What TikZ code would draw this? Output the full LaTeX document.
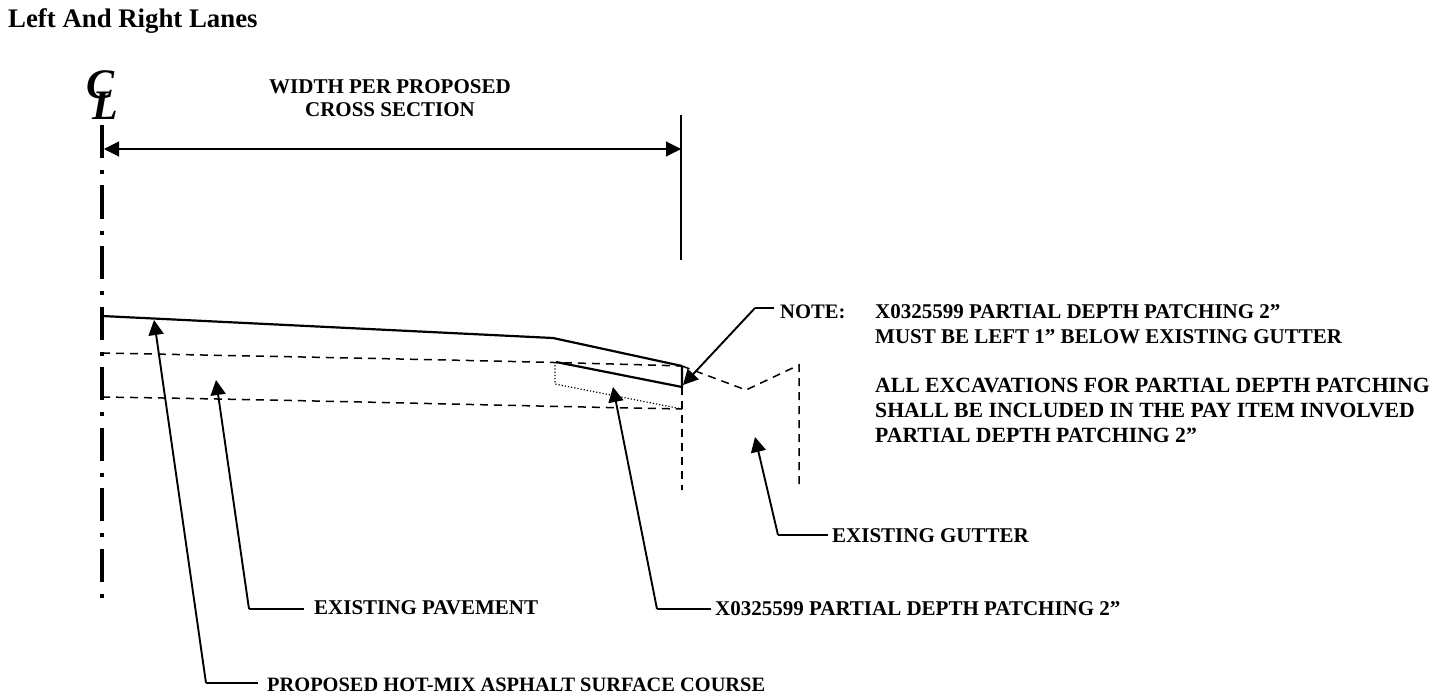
\documentclass[tikz,border=0pt]{standalone}
\usepackage{fontspec}
\setmainfont{Liberation Serif}
\usetikzlibrary{arrows.meta}
\tikzset{
  lbl/.style={anchor=base west, inner xsep=4pt, inner ysep=0pt, align=left, font=\fontsize{21}{25}\selectfont\bfseries},
  heavy/.style={line width=2.2pt},
  gone/.style={line width=1.5pt, dash pattern=on 8pt off 6pt},
  leader/.style={line width=1.9pt, -{Triangle[length=15pt,width=15pt]}},
  tail/.style={line width=1.1pt},
  dimline/.style={line width=1.1pt, {Triangle[length=15pt,width=15pt]}-{Triangle[length=15pt,width=15pt]}}
}
\begin{document}
\begin{tikzpicture}[x=1pt, y=-1pt]
  \useasboundingbox (0,0) rectangle (1433,698);

  %Title
  \node [anchor=base west, inner sep=0pt, font=\fontsize{26.8}{30}\selectfont\bfseries] (title) at (8,28) {Left And Right Lanes};

  %Centre line
  \node [inner sep=0pt, font=\fontsize{42}{42}\selectfont\bfseries\itshape] (clc) at (101,85) {C};
  \node [inner sep=0pt, font=\fontsize{42}{42}\selectfont\bfseries\itshape] (cll) at (105,106) {L};
  \coordinate (cltop) at (102,125);
  \coordinate (clbot) at (102,599);
  \draw [line width=4pt, dash pattern=on 33pt off 12pt on 4pt off 11.5pt] (cltop) -- (clbot);

  %Width dimension
  \coordinate (dimtop) at (681,115);
  \coordinate (dimbot) at (681,260);
  \coordinate (dimleft) at (104,149);
  \coordinate (dimright) at (681,149);
  \draw [line width=1.2pt] (dimtop) -- (dimbot);
  \draw [dimline] (dimleft) -- (dimright);
  \node [align=center, inner sep=0pt, font=\fontsize{21}{23}\selectfont\bfseries] (width) at (390,98) {WIDTH PER PROPOSED\\CROSS SECTION};

  %Proposed surface
  \coordinate (surfa) at (102,316);
  \coordinate (surfb) at (553,338);
  \coordinate (surfc) at (682,366);
  \draw [heavy] (surfa) -- (surfb) -- (surfc);

  %Existing pavement
  \coordinate (patchl) at (556,362);
  \coordinate (patchr) at (682,387);
  \coordinate (patchb) at (682,409);
  \draw [gone] (102,353) .. controls (300,357) and (520,361) .. (surfc);
  \draw [gone] (102,397) .. controls (300,400) and (520,406) .. (patchb);
  \draw [gone] (patchr) -- (682,490);

  %Patch
  \draw [heavy] (patchl) -- (patchr) -- (surfc);
  \draw [line width=1.2pt, dotted] (555,362) -- (555,384) -- (patchb);

  %Gutter
  \draw [gone] (surfc) -- (746,390) -- (799,365) -- (799,485);

  %Labels
  \node [lbl, inner xsep=9pt, font=\fontsize{20.4}{25}\selectfont\bfseries] (prop) at (258,691) {PROPOSED HOT-MIX ASPHALT SURFACE COURSE};
  \node [lbl, inner xsep=10pt] (pave) at (304,614) {EXISTING PAVEMENT};
  \node [lbl] (depth) at (711,615) {X0325599 PARTIAL DEPTH PATCHING 2”};
  \node [lbl] (gutter) at (828,542) {EXISTING GUTTER};
  \node [lbl, inner xsep=6pt, font=\fontsize{20.6}{25}\selectfont\bfseries] (note) at (774,318) {NOTE:};
  \node [lbl, inner xsep=0pt] (leftgut) at (875,343) {X0325599 PARTIAL DEPTH PATCHING 2”\\MUST BE LEFT 1” BELOW EXISTING GUTTER};
  \node [lbl, inner xsep=0pt, font=\fontsize{21.7}{25}\selectfont\bfseries] (excav) at (875,442) {ALL EXCAVATIONS FOR PARTIAL DEPTH PATCHING\\SHALL BE INCLUDED IN THE PAY ITEM INVOLVED\\PARTIAL DEPTH PATCHING 2”};

  %Leaders
  \coordinate (propb) at (206,683);
  \coordinate (paveb) at (249,609);
  \coordinate (depthb) at (657,609);
  \coordinate (gutb) at (778,535);
  \coordinate (noteb) at (755,308);
  \draw [tail] (propb -| prop.west) -- (propb);
  \draw [leader] (propb) -- (154,320);
  \draw [tail] (paveb -| pave.west) -- (paveb);
  \draw [leader] (paveb) -- (216,380);
  \draw [tail] (depthb -| depth.west) -- (depthb);
  \draw [leader] (depthb) -- (613,387);
  \draw [tail] (gutb -| gutter.west) -- (gutb);
  \draw [leader] (gutb) -- (755,437);
  \draw [tail] (noteb -| note.west) -- (noteb);
  \draw [leader] (noteb) -- (683,385);
\end{tikzpicture}
\end{document}
